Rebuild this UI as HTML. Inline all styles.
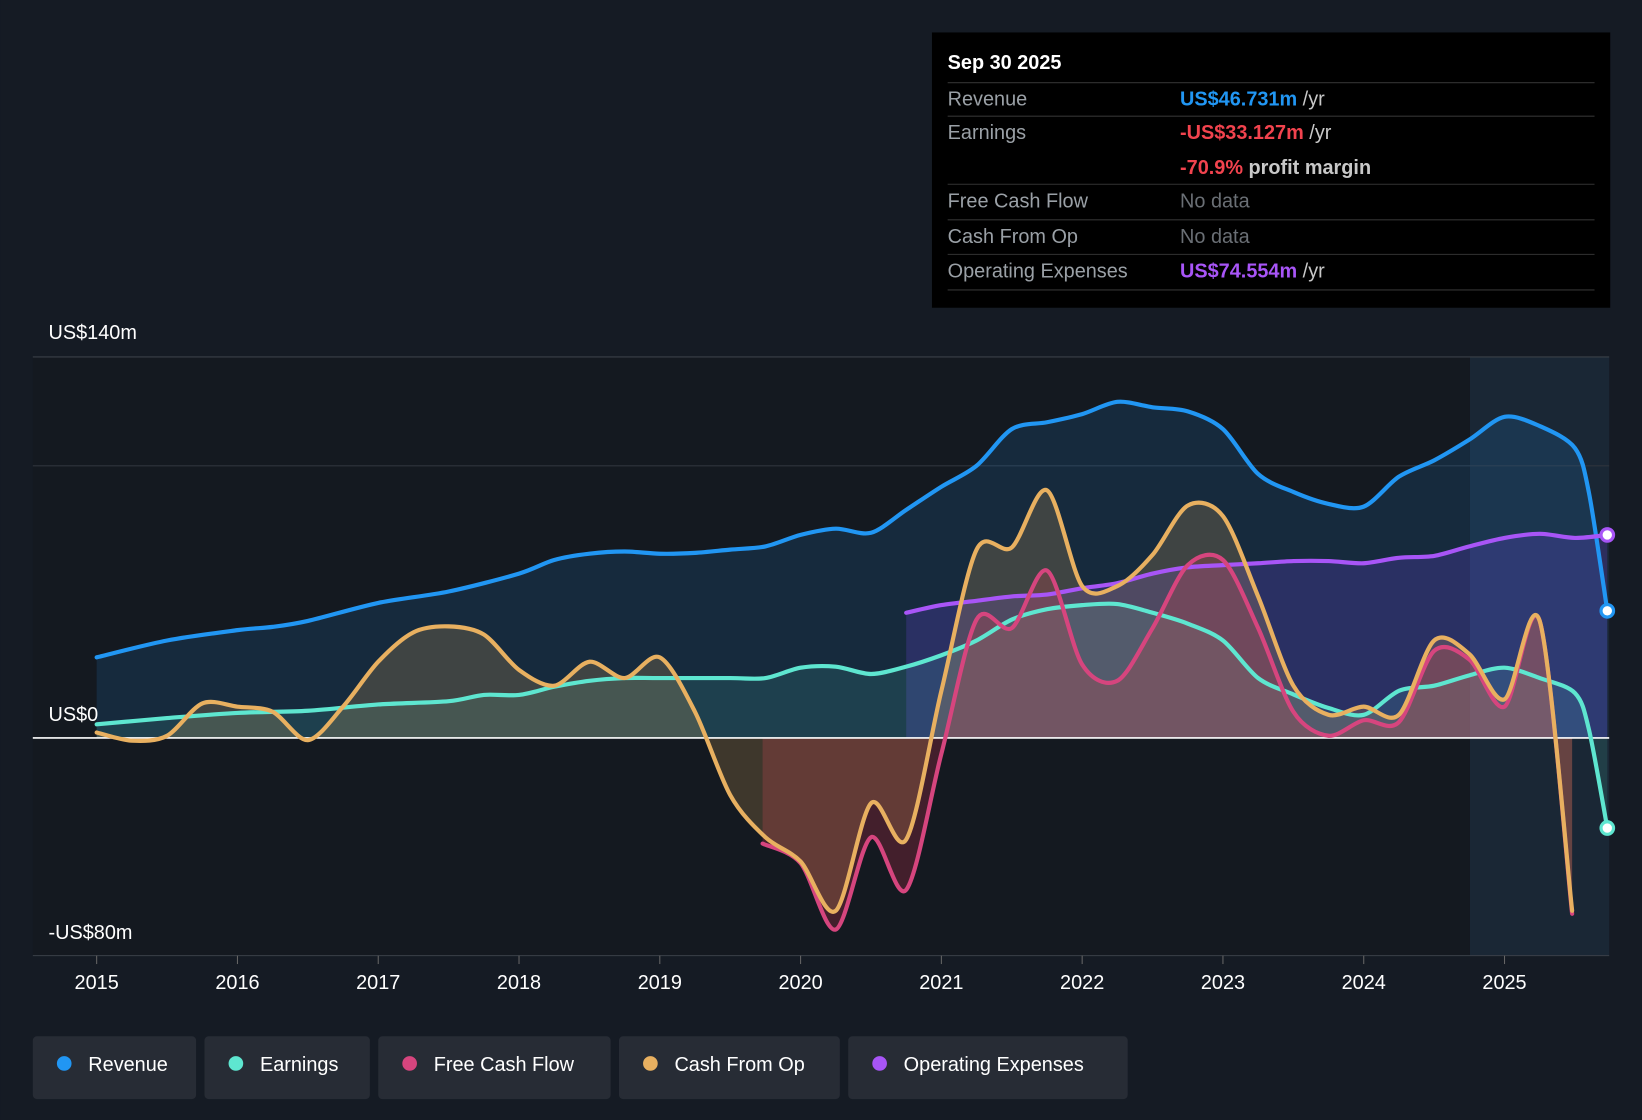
<!DOCTYPE html>
<html><head><meta charset="utf-8">
<style>
html,body{margin:0;padding:0;background:#151b24;}
svg{display:block;font-family:"Liberation Sans",Arial,sans-serif;}
</style></head>
<body>
<svg id="chart" width="1642" height="1120" viewBox="0 0 1568 1070" xmlns="http://www.w3.org/2000/svg">
<rect x="0" y="0" width="1568" height="1070" fill="#151b24"/>
<rect x="31" y="341" width="1373" height="572" fill="#141920"/>
<rect x="1404" y="341" width="133" height="572" fill="#1b2a3a" opacity="0.8"/>
<line x1="31" y1="341" x2="1537" y2="341" stroke="#3a4048"/>
<line x1="31" y1="445" x2="1537" y2="445" stroke="#2e343c"/>
<line x1="31" y1="913" x2="1537" y2="913" stroke="#3a4048"/>
<g id="areas"></g>
<line x1="31" y1="705" x2="1537" y2="705" stroke="#ffffff" stroke-width="1.5"/>
<g id="lines"></g>
<text x="46" y="324" fill="#ffffff" font-size="19">US$140m</text>
<text x="46" y="689" fill="#ffffff" font-size="19">US$0</text>
<text x="46" y="897" fill="#ffffff" font-size="19">-US$80m</text>
<g id="xticks"></g>

<g>
<rect x="890" y="31" width="648" height="263" fill="#000000"/>
<text x="905" y="66" fill="#fff" font-size="19" font-weight="bold">Sep 30 2025</text>
<line x1="905" y1="79" x2="1523" y2="79" stroke="#333"/>
<text x="905" y="101" fill="#9aa0a6" font-size="19">Revenue</text>
<text x="1127" y="101" font-size="19"><tspan fill="#2196f3" font-weight="bold">US$46.731m</tspan><tspan fill="#c8c8c8"> /yr</tspan></text>
<line x1="905" y1="111" x2="1523" y2="111" stroke="#333"/>
<text x="905" y="133" fill="#9aa0a6" font-size="19">Earnings</text>
<text x="1127" y="133" font-size="19"><tspan fill="#f2434e" font-weight="bold">-US$33.127m</tspan><tspan fill="#c8c8c8"> /yr</tspan></text>
<text x="1127" y="166" font-size="19"><tspan fill="#f2434e" font-weight="bold">-70.9%</tspan><tspan fill="#c8c8c8" font-weight="bold"> profit margin</tspan></text>
<line x1="905" y1="176" x2="1523" y2="176" stroke="#333"/>
<text x="905" y="198" fill="#9aa0a6" font-size="19">Free Cash Flow</text>
<text x="1127" y="198" fill="#6a6f75" font-size="19">No data</text>
<line x1="905" y1="210" x2="1523" y2="210" stroke="#333"/>
<text x="905" y="232" fill="#9aa0a6" font-size="19">Cash From Op</text>
<text x="1127" y="232" fill="#6a6f75" font-size="19">No data</text>
<line x1="905" y1="243" x2="1523" y2="243" stroke="#333"/>
<text x="905" y="265" fill="#9aa0a6" font-size="19">Operating Expenses</text>
<text x="1127" y="265" font-size="19"><tspan fill="#a855f7" font-weight="bold">US$74.554m</tspan><tspan fill="#c8c8c8"> /yr</tspan></text>
<line x1="905" y1="277" x2="1523" y2="277" stroke="#333"/>
</g>

<g>
<g><rect x="31" y="990" width="156" height="60" rx="4" fill="#272c35"/><circle cx="61" cy="1016" r="7" fill="#2196f3"/><text x="84" y="1023" fill="#fff" font-size="19">Revenue</text></g>
<g><rect x="195" y="990" width="158" height="60" rx="4" fill="#272c35"/><circle cx="225" cy="1016" r="7" fill="#5ee6d0"/><text x="248" y="1023" fill="#fff" font-size="19">Earnings</text></g>
<g><rect x="361" y="990" width="222" height="60" rx="4" fill="#272c35"/><circle cx="391" cy="1016" r="7" fill="#d6457e"/><text x="414" y="1023" fill="#fff" font-size="19">Free Cash Flow</text></g>
<g><rect x="591" y="990" width="211" height="60" rx="4" fill="#272c35"/><circle cx="621" cy="1016" r="7" fill="#e8b060"/><text x="644" y="1023" fill="#fff" font-size="19">Cash From Op</text></g>
<g><rect x="810" y="990" width="267" height="60" rx="4" fill="#272c35"/><circle cx="840" cy="1016" r="7" fill="#a855f7"/><text x="863" y="1023" fill="#fff" font-size="19">Operating Expenses</text></g>
</g>
</svg>
<script>
const xTickLabels = [2015,2016,2017,2018,2019,2020,2021,2022,2023,2024,2025];
const revenueX = [2015,2015.5,2016,2016.25,2016.5,2017,2017.5,2018,2018.25,2018.5,2018.75,2019,2019.25,2019.5,2019.75,2020,2020.25,2020.5,2020.75,2021,2021.25,2021.5,2021.75,2022,2022.25,2022.5,2022.75,2023,2023.25,2023.5,2023.75,2024,2024.25,2024.5,2024.75,2025,2025.25,2025.5,2025.6,2025.73];
const revenueY = [29.6,35.8,39.6,40.8,43,49.6,53.8,60.4,65.4,67.7,68.5,67.7,68,69.2,70.4,74.6,76.9,75.4,83.8,92.3,100,113.5,116,119,123.5,121.5,120,113.5,97,90.4,86,85,96,102,109.6,118,114.6,106.5,90,46.7];
const earningsX = [2015,2015.5,2016,2016.5,2017,2017.5,2017.75,2018,2018.25,2018.5,2018.75,2019,2019.5,2019.75,2020,2020.25,2020.5,2020.75,2021,2021.25,2021.5,2021.75,2022,2022.25,2022.5,2022.75,2023,2023.25,2023.5,2023.75,2024,2024.25,2024.5,2024.75,2025,2025.25,2025.5,2025.6,2025.73];
const earningsY = [5,7.3,9.2,10,12.3,13.5,15.8,15.8,18.8,21,22,22,22,22,25.8,26.2,23.5,26.2,30.4,35.8,43.5,47.3,48.8,49.2,46,42,35.8,22,16,11,8.5,17.3,19.2,23,25.8,22,16.5,3,-33.1];
const cashOpX = [2015,2015.25,2015.5,2015.75,2016,2016.25,2016.5,2016.75,2017,2017.25,2017.5,2017.75,2018,2018.25,2018.5,2018.75,2019,2019.25,2019.5,2019.75,2020,2020.25,2020.5,2020.75,2021,2021.25,2021.5,2021.75,2022,2022.25,2022.5,2022.75,2023,2023.25,2023.5,2023.75,2024,2024.25,2024.5,2024.75,2025,2025.25,2025.48];
const cashOpY = [2,-1,0.8,12.7,11.5,9.6,-0.8,11.5,28,38.8,41,38,25,19.2,28,22,29.6,9.6,-21,-36.5,-45.4,-63.5,-24,-37.3,17.3,69.2,70,91,55.8,55.8,67.3,85.4,81.5,52,19.2,8.5,11.5,8.5,35.8,30.8,14.2,43,-63.5];
const fcfX = [2019.73,2020,2020.25,2020.5,2020.75,2021,2021.25,2021.5,2021.75,2022,2022.25,2022.5,2022.75,2023,2023.25,2023.5,2023.75,2024,2024.25,2024.5,2024.75,2025,2025.25,2025.48];
const fcfY = [-38.8,-46,-70.4,-36.5,-55.8,-5.8,43.5,40.4,61.5,27,21,40.4,63.5,65.4,40.4,9.6,0.8,6.5,5.8,32,28.8,11.5,43,-64.6];
const opexX = [2020.75,2021,2021.25,2021.5,2021.75,2022,2022.25,2022.5,2022.75,2023,2023.25,2023.5,2023.75,2024,2024.25,2024.5,2024.75,2025,2025.25,2025.5,2025.73];
const opexY = [46,48.8,50.4,52,52.7,55,56.9,60.4,62.7,63.5,64.2,65,65,64.2,66.2,66.9,70.4,73.5,75,73.5,74.6];

function xs(yr){return 92+(yr-2015)*134.5;}
function ys(v){return 705-v*2.6;}
function pts(X,Y){return X.map((x,i)=>[xs(x),ys(Y[i])]);}
function smooth(p){
  let d='M'+p[0][0].toFixed(1)+','+p[0][1].toFixed(1);
  for(let i=0;i<p.length-1;i++){
    const p0=p[i-1]||p[i],p1=p[i],p2=p[i+1],p3=p[i+2]||p2;
    const t=0.15;
    const c1=[p1[0]+(p2[0]-p0[0])*t,p1[1]+(p2[1]-p0[1])*t];
    const c2=[p2[0]-(p3[0]-p1[0])*t,p2[1]-(p3[1]-p1[1])*t];
    d+=' C'+c1[0].toFixed(1)+','+c1[1].toFixed(1)+' '+c2[0].toFixed(1)+','+c2[1].toFixed(1)+' '+p2[0].toFixed(1)+','+p2[1].toFixed(1);
  }
  return d;
}
const NS='http://www.w3.org/2000/svg';
const areas=document.getElementById('areas'), lines=document.getElementById('lines');
function series(name,X,Y,color,fill,fillOp,dot){
  const p=pts(X,Y); const d=smooth(p);
  const a=document.createElementNS(NS,'path');
  a.setAttribute('d',d+' L'+p[p.length-1][0].toFixed(1)+','+ys(0)+' L'+p[0][0].toFixed(1)+','+ys(0)+' Z');
  a.setAttribute('fill',fill);a.setAttribute('fill-opacity',fillOp);
  
  
  areas.appendChild(a);
  const l=document.createElementNS(NS,'path');
  l.setAttribute('d',d);l.setAttribute('fill','none');l.setAttribute('stroke',color);
  l.setAttribute('stroke-width','4');l.setAttribute('stroke-linejoin','round');l.setAttribute('stroke-linecap','round');
  
  
  lines.appendChild(l);
  if(dot){
    const c=document.createElementNS(NS,'circle');
    const q=p[p.length-1];
    c.setAttribute('cx',q[0]);c.setAttribute('cy',q[1]);c.setAttribute('r','6');
    c.setAttribute('fill','#fff');c.setAttribute('stroke',color);c.setAttribute('stroke-width','3');
    
    
    lines.appendChild(c);
  }
}
series('revenue',revenueX,revenueY,'#2196f3','#2196f3',0.14,true);
series('operating-expenses',opexX,opexY,'#a855f7','#7c4dff',0.2,true);
series('earnings',earningsX,earningsY,'#5ee6d0','#5ee6d0',0.12,true);
series('free-cash-flow',fcfX,fcfY,'#d6457e','#c0304a',0.28,false);
series('cash-from-op',cashOpX,cashOpY,'#e8b060','#e8b060',0.2,false);

const xt=document.getElementById('xticks');
xTickLabels.forEach(y=>{
  const ln=document.createElementNS(NS,'line');
  ln.setAttribute('x1',xs(y));ln.setAttribute('x2',xs(y));ln.setAttribute('y1',913);ln.setAttribute('y2',921);
  ln.setAttribute('stroke','#666');
  
  
  xt.appendChild(ln);
  const t=document.createElementNS(NS,'text');
  t.setAttribute('x',xs(y));t.setAttribute('y',945);t.setAttribute('fill','#fff');
  t.setAttribute('font-size','19');t.setAttribute('text-anchor','middle');
  t.textContent=y;
  
  
  xt.appendChild(t);
});
</script>
</body></html>
